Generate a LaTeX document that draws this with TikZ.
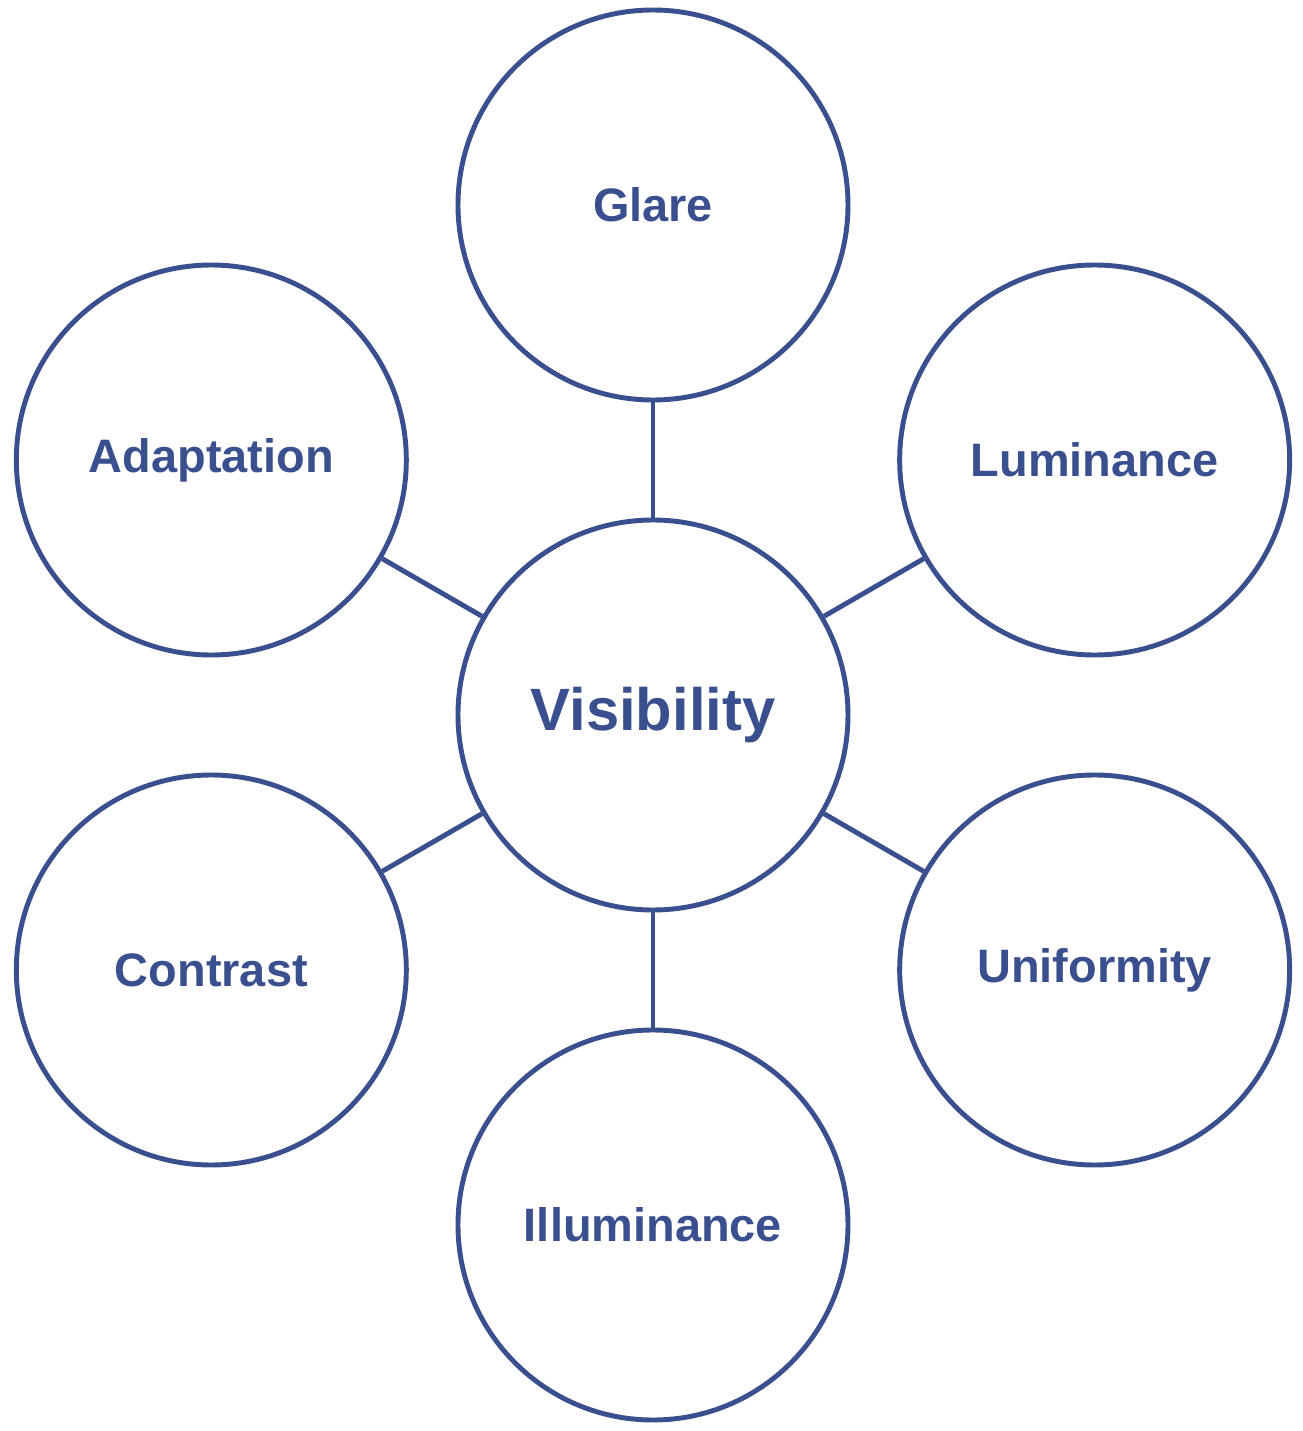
\documentclass[tikz,border=0pt]{standalone}
\usepackage{fontspec}
\setmainfont{Liberation Sans}
\definecolor{visblue}{HTML}{3A4F8E}
\tikzset{
    topic/.style={circle, draw=visblue, line width=2.8pt, minimum size=7.8cm, inner sep=0pt,
        text=visblue, font=\bfseries\fontsize{26.7}{30}\selectfont},
    link/.style={draw=visblue, line width=2.8pt}
}
\begin{document}
\begin{tikzpicture}
    \useasboundingbox (-13.06,-14.32) rectangle (13.0,14.30);
    
    \node[topic, font=\bfseries\fontsize{34}{38}\selectfont] (vis) at (0,0) {Visibility};
    
    \node[topic] (glare) at (90:10.2) {Glare};
    \node[topic] (lum) at (30:10.2) {Luminance};
    \node[topic] (unif) at (-30:10.2) {Uniformity};
    \node[topic] (illum) at (-90:10.2) {Illuminance};
    \node[topic] (contr) at (-150:10.2) {Contrast};
    \node[topic] (adapt) at (150:10.2) {Adaptation};
    
    \foreach \n in {glare,lum,unif,illum,contr,adapt}
        \draw[link] (vis) -- (\n);
    
\end{tikzpicture}
\end{document}
